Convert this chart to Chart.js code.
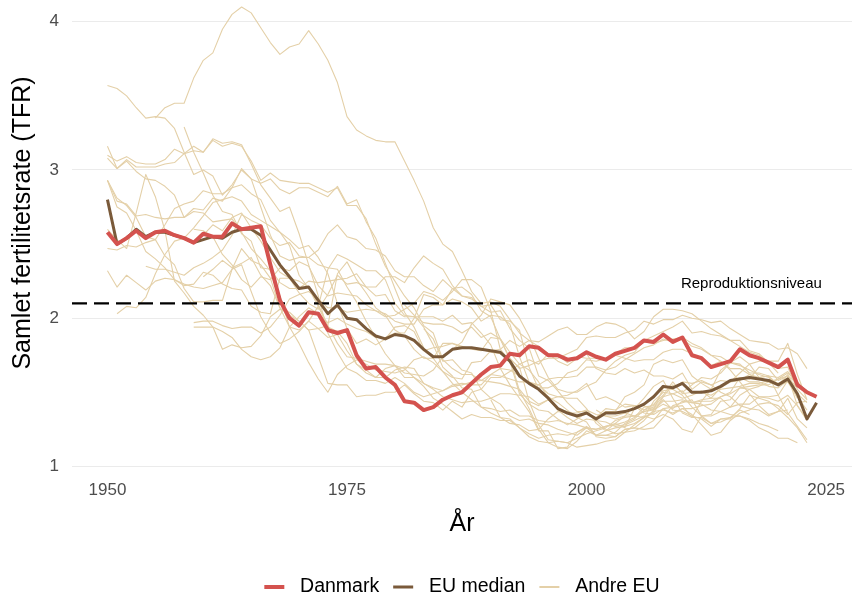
<!DOCTYPE html>
<html>
<head>
<meta charset="utf-8">
<script src="https://cdn.jsdelivr.net/npm/chart.js@4.4.1/dist/chart.umd.min.js"></script>
<style>
  html, body { margin: 0; padding: 0; background: #fff; }
  canvas { display: block; }
</style>
</head>
<body>
<canvas id="myChart" width="854" height="596"></canvas>
<script>
// TFR per year, Danmark and EU median 1950-2024
var firstYear = 1950;
var danmark = [2.58, 2.50, 2.54, 2.59, 2.54, 2.58, 2.59, 2.56, 2.54, 2.51,
    2.57, 2.55, 2.55, 2.64, 2.60, 2.61, 2.62, 2.36, 2.12, 2.00,
    1.95, 2.04, 2.03, 1.92, 1.90, 1.92, 1.75, 1.66, 1.67, 1.60,
    1.55, 1.44, 1.43, 1.38, 1.40, 1.45, 1.48, 1.50, 1.56, 1.62,
    1.67, 1.68, 1.76, 1.75, 1.81, 1.80, 1.75, 1.75, 1.72, 1.73,
    1.77, 1.74, 1.72, 1.76, 1.78, 1.80, 1.85, 1.84, 1.89, 1.84,
    1.87, 1.75, 1.73, 1.67, 1.69, 1.71, 1.79, 1.75, 1.73, 1.70,
    1.67, 1.72, 1.55, 1.50, 1.47];
var euMedian = [2.80, 2.50, 2.54, 2.60, 2.55, 2.58, 2.58, 2.56, 2.54, 2.51,
    2.53, 2.55, 2.54, 2.58, 2.60, 2.60, 2.56, 2.46, 2.36, 2.28,
    2.20, 2.21, 2.12, 2.03, 2.09, 2.00, 1.99, 1.93, 1.88, 1.86,
    1.89, 1.88, 1.85, 1.79, 1.74, 1.74, 1.79, 1.80, 1.80, 1.79,
    1.78, 1.77, 1.71, 1.61, 1.56, 1.52, 1.46, 1.39, 1.36, 1.34,
    1.36, 1.32, 1.36, 1.36, 1.37, 1.39, 1.42, 1.47, 1.54, 1.53,
    1.56, 1.50, 1.50, 1.51, 1.54, 1.58, 1.59, 1.60, 1.59, 1.58,
    1.55, 1.59, 1.49, 1.32, 1.43];

// other EU countries, each from its own first year
var austria = [2.03, 2.08, 2.07, 2.14, 2.30, 2.43, 2.52, 2.54, 2.61,
    2.69, 2.78, 2.80, 2.82, 2.79, 2.70, 2.66, 2.62, 2.58, 2.49,
    2.29, 2.20, 2.08, 1.94, 1.91, 1.83, 1.69, 1.63, 1.60, 1.60,
    1.65, 1.67, 1.66, 1.56, 1.52, 1.47, 1.45, 1.43, 1.44, 1.44,
    1.46, 1.49, 1.49, 1.48, 1.47, 1.42, 1.45, 1.39, 1.37, 1.34,
    1.36, 1.33, 1.39, 1.38, 1.42, 1.41, 1.41, 1.38, 1.42, 1.39,
    1.44, 1.43, 1.44, 1.44, 1.47, 1.49, 1.53, 1.52, 1.47, 1.46,
    1.44, 1.48, 1.41, 1.32];
var belgium = [2.56, 2.63, 2.59, 2.68, 2.71, 2.61, 2.52, 2.41, 2.31, 2.27,
    2.25, 2.21, 2.09, 1.95, 1.83, 1.74, 1.73, 1.71, 1.69, 1.69,
    1.68, 1.66, 1.60, 1.56, 1.53, 1.51, 1.54, 1.55, 1.57, 1.58,
    1.62, 1.66, 1.65, 1.61, 1.56, 1.55, 1.59, 1.60, 1.60, 1.61,
    1.67, 1.67, 1.65, 1.67, 1.72, 1.76, 1.80, 1.82, 1.86, 1.84,
    1.86, 1.81, 1.79, 1.75, 1.74, 1.70, 1.68, 1.65, 1.62, 1.60,
    1.55, 1.60, 1.53];
var bulgaria = [2.93, 2.75, 2.71, 2.59, 2.45, 2.40, 2.34, 2.26, 2.22, 2.23,
    2.31, 2.29, 2.23, 2.20, 2.19, 2.08, 2.04, 2.03, 2.27, 2.27,
    2.17, 2.10, 2.06, 2.16, 2.29, 2.23, 2.24, 2.21, 2.15, 2.16,
    2.05, 2.01, 2.01, 2.01, 2.01, 1.98, 2.02, 1.96, 1.97, 1.90,
    1.82, 1.66, 1.55, 1.46, 1.37, 1.24, 1.24, 1.12, 1.13, 1.23,
    1.27, 1.21, 1.21, 1.23, 1.29, 1.32, 1.38, 1.42, 1.48, 1.57,
    1.49, 1.50, 1.50, 1.48, 1.52, 1.53, 1.54, 1.56, 1.56, 1.58,
    1.56, 1.58];
var croatia = [1.38, 1.34, 1.32, 1.34, 1.41, 1.38, 1.40, 1.47, 1.49,
    1.46, 1.48, 1.51, 1.46, 1.46, 1.40, 1.42, 1.42, 1.47, 1.47,
    1.48, 1.58, 1.53];
var czechia = [2.93, 2.81, 2.76, 2.68, 2.55, 2.53, 2.42, 2.36, 2.20, 2.11,
    2.11, 2.12, 2.12, 2.33, 2.36, 2.18, 2.01, 1.90, 1.83, 1.86,
    1.91, 1.98, 2.08, 2.33, 2.43, 2.40, 2.36, 2.32, 2.32, 2.26,
    2.10, 2.02, 2.01, 1.97, 1.96, 1.96, 1.94, 1.90, 1.94, 1.87,
    1.90, 1.86, 1.72, 1.67, 1.44, 1.28, 1.18, 1.17, 1.16, 1.13,
    1.14, 1.15, 1.17, 1.18, 1.23, 1.28, 1.33, 1.44, 1.50, 1.49,
    1.51, 1.43, 1.45, 1.46, 1.53, 1.57, 1.63, 1.69, 1.71, 1.71,
    1.71, 1.83, 1.62, 1.45];
var estonia = [1.97,
    1.98, 1.98, 1.95, 1.93, 1.94, 1.94, 1.90, 1.94, 2.02, 2.13,
    2.16, 2.18, 2.13, 2.07, 2.07, 2.04, 2.05, 2.06, 2.05, 2.01,
    2.02, 2.06, 2.10, 2.18, 2.16, 2.12, 2.18, 2.26, 2.26, 2.21,
    2.05, 1.79, 1.71, 1.49, 1.42, 1.38, 1.37, 1.32, 1.28, 1.32,
    1.36, 1.32, 1.37, 1.37, 1.47, 1.50, 1.55, 1.69, 1.72, 1.70,
    1.72, 1.61, 1.56, 1.52, 1.54, 1.58, 1.60, 1.59, 1.67, 1.66,
    1.58, 1.61, 1.41, 1.31];
var finland = [3.16, 3.01, 3.06, 2.99, 2.94, 2.93, 2.89, 2.83, 2.68, 2.72,
    2.71, 2.65, 2.66, 2.67, 2.58, 2.47, 2.40, 2.32, 2.15, 1.94,
    1.83, 1.70, 1.59, 1.50, 1.62, 1.68, 1.72, 1.69, 1.65, 1.64,
    1.63, 1.65, 1.72, 1.74, 1.70, 1.64, 1.60, 1.59, 1.70, 1.71,
    1.78, 1.79, 1.85, 1.81, 1.85, 1.81, 1.76, 1.75, 1.70, 1.74,
    1.73, 1.73, 1.72, 1.76, 1.80, 1.80, 1.84, 1.83, 1.85, 1.86,
    1.87, 1.83, 1.80, 1.75, 1.71, 1.65, 1.57, 1.49, 1.41, 1.35,
    1.37, 1.46, 1.32, 1.26];
var france = [2.93, 2.79, 2.77, 2.69, 2.70, 2.68, 2.67, 2.68, 2.68, 2.74,
    2.73, 2.81, 2.79, 2.88, 2.90, 2.84, 2.80, 2.66, 2.58, 2.53,
    2.47, 2.49, 2.41, 2.30, 2.10, 1.93, 1.83, 1.86, 1.82, 1.86,
    1.94, 1.95, 1.91, 1.78, 1.80, 1.81, 1.83, 1.80, 1.80, 1.79,
    1.77, 1.76, 1.73, 1.66, 1.68, 1.71, 1.73, 1.73, 1.76, 1.79,
    1.87, 1.88, 1.87, 1.87, 1.90, 1.92, 1.98, 1.96, 1.99, 1.99,
    2.02, 2.00, 1.99, 1.97, 1.98, 1.93, 1.89, 1.85, 1.84, 1.83,
    1.79, 1.80, 1.76, 1.66];
var germany = [1.45, 1.33, 1.29, 1.28, 1.24, 1.25, 1.32, 1.37, 1.36, 1.36,
    1.38, 1.35, 1.34, 1.34, 1.36, 1.34, 1.33, 1.37, 1.38, 1.36,
    1.39, 1.39, 1.41, 1.42, 1.47, 1.50, 1.60, 1.57, 1.57, 1.54,
    1.53, 1.58, 1.46];
var greece = [2.09, 2.02, 1.94, 1.82, 1.67, 1.61, 1.53, 1.52, 1.40,
    1.39, 1.37, 1.38, 1.34, 1.34, 1.31, 1.30, 1.31, 1.29, 1.28,
    1.26, 1.25, 1.27, 1.28, 1.30, 1.33, 1.40, 1.41, 1.51, 1.52,
    1.48, 1.40, 1.34, 1.29, 1.30, 1.33, 1.38, 1.35];
var hungary = [2.60, 2.53, 2.47, 2.71, 2.97, 2.82, 2.59, 2.25, 2.17, 2.08,
    2.02, 1.94, 1.79, 1.82, 1.80, 1.81, 1.88, 2.01, 2.06, 2.04,
    1.98, 1.92, 1.93, 1.95, 2.30, 2.38, 2.26, 2.17, 2.07, 2.02,
    1.92, 1.88, 1.79, 1.73, 1.73, 1.83, 1.83, 1.81, 1.79, 1.78,
    1.87, 1.86, 1.77, 1.69, 1.65, 1.57, 1.46, 1.38, 1.33, 1.29,
    1.32, 1.31, 1.30, 1.27, 1.28, 1.31, 1.34, 1.32, 1.35, 1.32,
    1.25, 1.23, 1.34, 1.35, 1.44, 1.45, 1.53, 1.54, 1.55, 1.55,
    1.59, 1.61, 1.56, 1.51];
var ireland = [3.35, 3.42, 3.45, 3.45, 3.62,
    3.74, 3.79, 3.95, 4.05, 4.10, 4.06, 3.96, 3.86, 3.78, 3.83,
    3.85, 3.94, 3.85, 3.74, 3.59, 3.36, 3.27, 3.23, 3.20, 3.19,
    3.19, 3.06, 2.93, 2.79, 2.61, 2.50, 2.45, 2.32, 2.18, 2.10,
    2.11, 2.08, 1.99, 1.90, 1.85, 1.84, 1.88, 1.92, 1.94, 1.89,
    1.89, 1.94, 1.97, 1.96, 1.93, 1.86, 1.91, 2.01, 2.06, 2.06,
    2.05, 2.03, 1.98, 1.93, 1.89, 1.85, 1.81, 1.77, 1.75, 1.70,
    1.63];
var italy = [2.35, 2.33, 2.33, 2.31, 2.29, 2.34,
    2.37, 2.41, 2.46, 2.56, 2.70, 2.66, 2.63, 2.54, 2.49, 2.51,
    2.42, 2.41, 2.36, 2.34, 2.33, 2.21, 2.11, 1.98, 1.87, 1.76,
    1.68, 1.60, 1.60, 1.54, 1.46, 1.42, 1.37, 1.32, 1.35, 1.33,
    1.33, 1.31, 1.31, 1.26, 1.22, 1.19, 1.21, 1.22, 1.21, 1.23,
    1.26, 1.25, 1.27, 1.29, 1.34, 1.34, 1.37, 1.38, 1.44, 1.44,
    1.45, 1.43, 1.42, 1.38, 1.37, 1.35, 1.34, 1.32, 1.29, 1.27,
    1.24];
var latvia = [1.94,
    1.94, 1.94, 1.91, 1.87, 1.79, 1.74, 1.72, 1.74, 1.80, 1.94,
    2.01, 2.07, 2.03, 1.97, 2.00, 1.96, 1.93, 1.91, 1.87, 1.87,
    1.90, 1.90, 2.00, 2.16, 2.14, 2.09, 2.20, 2.21, 2.16, 2.05,
    2.01, 1.86, 1.73, 1.51, 1.39, 1.25, 1.16, 1.13, 1.12, 1.17,
    1.24, 1.21, 1.24, 1.29, 1.26, 1.39, 1.46, 1.54, 1.58, 1.46,
    1.36, 1.33, 1.44, 1.52, 1.65, 1.70, 1.74, 1.69, 1.60, 1.61,
    1.55, 1.57, 1.47, 1.38];
var lithuania = [2.60,
    2.59, 2.55, 2.43, 2.36, 2.26, 2.21, 2.28, 2.26, 2.34, 2.32,
    2.38, 2.35, 2.22, 2.15, 2.17, 2.16, 2.15, 2.09, 2.05, 2.03,
    1.98, 1.96, 1.96, 2.06, 2.09, 2.09, 2.13, 2.11, 2.07, 1.98,
    2.02, 2.01, 1.96, 1.74, 1.57, 1.55, 1.49, 1.47, 1.46, 1.46,
    1.39, 1.29, 1.24, 1.26, 1.27, 1.29, 1.33, 1.36, 1.47, 1.55,
    1.50, 1.55, 1.60, 1.59, 1.63, 1.70, 1.69, 1.63, 1.63, 1.61,
    1.48, 1.36, 1.27, 1.18];
var luxembourg = [2.28, 2.33, 2.39, 2.34, 2.37, 2.41, 2.29, 2.22, 2.07, 2.02,
    1.98, 1.92, 1.74, 1.56, 1.55, 1.55, 1.47, 1.48, 1.48, 1.50,
    1.50, 1.55, 1.49, 1.44, 1.43, 1.38, 1.44, 1.40, 1.50, 1.52,
    1.60, 1.60, 1.64, 1.69, 1.72, 1.69, 1.76, 1.71, 1.68, 1.73,
    1.76, 1.66, 1.63, 1.62, 1.66, 1.63, 1.65, 1.61, 1.61, 1.59,
    1.63, 1.52, 1.57, 1.55, 1.50, 1.47, 1.41, 1.39, 1.38, 1.34,
    1.37, 1.38];
var netherlands = [3.10, 3.06, 3.09, 3.05, 3.04, 3.04, 3.07, 3.14, 3.11, 3.13,
    3.12, 3.21, 3.18, 3.19, 3.17, 3.04, 2.90, 2.81, 2.72, 2.75,
    2.57, 2.36, 2.15, 1.90, 1.77, 1.66, 1.63, 1.58, 1.58, 1.56,
    1.60, 1.56, 1.50, 1.47, 1.49, 1.51, 1.55, 1.56, 1.55, 1.55,
    1.62, 1.61, 1.59, 1.57, 1.57, 1.53, 1.53, 1.56, 1.63, 1.65,
    1.72, 1.71, 1.73, 1.75, 1.73, 1.71, 1.72, 1.72, 1.77, 1.79,
    1.79, 1.76, 1.72, 1.68, 1.71, 1.66, 1.66, 1.62, 1.59, 1.57,
    1.55, 1.62, 1.49, 1.43];
var poland = [3.29, 3.12,
    2.98, 2.83, 2.72, 2.70, 2.57, 2.52, 2.34, 2.33, 2.24, 2.20,
    2.20, 2.25, 2.24, 2.25, 2.26, 2.27, 2.30, 2.21, 2.21, 2.28,
    2.28, 2.24, 2.34, 2.42, 2.37, 2.33, 2.22, 2.15, 2.13, 2.08,
    2.04, 2.05, 1.93, 1.85, 1.80, 1.61, 1.58, 1.51, 1.43, 1.37,
    1.37, 1.31, 1.25, 1.22, 1.23, 1.24, 1.27, 1.31, 1.39, 1.40,
    1.41, 1.33, 1.33, 1.29, 1.32, 1.32, 1.39, 1.48, 1.46, 1.44,
    1.39, 1.33, 1.26, 1.16];
var portugal = [3.08, 3.01, 3.07, 3.02, 3.02, 3.02, 3.04, 3.05, 3.11, 3.16,
    3.12, 3.20, 3.16, 3.18, 3.16, 3.06, 2.93, 2.98, 2.93, 2.92,
    2.91, 2.91, 2.88, 2.85, 2.88, 2.76, 2.76, 2.67, 2.50, 2.35,
    2.25, 2.15, 2.07, 1.95, 1.90, 1.72, 1.66, 1.62, 1.62, 1.58,
    1.57, 1.56, 1.54, 1.52, 1.44, 1.41, 1.45, 1.47, 1.48, 1.51,
    1.56, 1.45, 1.47, 1.44, 1.40, 1.41, 1.36, 1.35, 1.39, 1.35,
    1.39, 1.35, 1.28, 1.21, 1.23, 1.31, 1.36, 1.38, 1.42, 1.43,
    1.41, 1.35, 1.43, 1.44];
var slovakia = [3.57, 3.55, 3.50, 3.42, 3.35, 3.36, 3.35, 3.28, 3.12, 2.97,
    3.00, 2.96, 2.83, 2.90, 3.00, 2.94, 2.75, 2.56, 2.42, 2.39,
    2.41, 2.41, 2.46, 2.57, 2.63, 2.55, 2.53, 2.47, 2.46, 2.42,
    2.32, 2.28, 2.28, 2.22, 2.18, 2.26, 2.20, 2.15, 2.14, 2.08,
    2.09, 1.99, 1.98, 1.92, 1.67, 1.52, 1.47, 1.43, 1.38, 1.33,
    1.30, 1.20, 1.19, 1.20, 1.25, 1.26, 1.25, 1.26, 1.33, 1.41,
    1.43, 1.45, 1.34, 1.34, 1.37, 1.40, 1.48, 1.52, 1.54, 1.57,
    1.59, 1.63, 1.57, 1.50];
var slovenia = [1.93, 1.86, 1.71, 1.72, 1.65, 1.63, 1.52,
    1.46, 1.42, 1.34, 1.31, 1.32, 1.29, 1.28, 1.25, 1.23, 1.21,
    1.26, 1.21, 1.21, 1.20, 1.25, 1.26, 1.31, 1.38, 1.53, 1.53,
    1.57, 1.56, 1.58, 1.55, 1.58, 1.57, 1.58, 1.62, 1.60, 1.61,
    1.60, 1.64, 1.55, 1.51];
var spain = [2.47, 2.46, 2.49, 2.48, 2.51, 2.53, 2.63, 2.74, 2.77, 2.79,
    2.86, 2.84, 2.84, 2.88, 3.01, 2.94, 2.91, 2.94, 2.87, 2.84,
    2.88, 2.88, 2.85, 2.82, 2.89, 2.77, 2.80, 2.65, 2.54, 2.37,
    2.20, 2.04, 1.94, 1.80, 1.73, 1.64, 1.56, 1.50, 1.45, 1.40,
    1.36, 1.33, 1.32, 1.26, 1.20, 1.17, 1.16, 1.17, 1.16, 1.19,
    1.22, 1.24, 1.26, 1.31, 1.33, 1.34, 1.37, 1.39, 1.45, 1.38,
    1.37, 1.34, 1.32, 1.27, 1.32, 1.33, 1.34, 1.31, 1.26, 1.23,
    1.19, 1.19, 1.16];
var sweden = [2.32, 2.21, 2.29, 2.24, 2.19, 2.25, 2.27, 2.26, 2.23, 2.21,
    2.20, 2.22, 2.24, 2.33, 2.47, 2.39, 2.36, 2.27, 2.07, 1.94,
    1.92, 1.98, 1.93, 1.87, 1.89, 1.78, 1.69, 1.65, 1.60, 1.66,
    1.68, 1.63, 1.62, 1.61, 1.65, 1.74, 1.79, 1.84, 1.96, 2.02,
    2.13, 2.11, 2.09, 2.00, 1.88, 1.73, 1.60, 1.52, 1.50, 1.50,
    1.54, 1.57, 1.65, 1.71, 1.75, 1.77, 1.85, 1.88, 1.91, 1.94,
    1.98, 1.90, 1.91, 1.89, 1.88, 1.85, 1.85, 1.78, 1.76, 1.70,
    1.66, 1.67, 1.52, 1.45];

var otherSeries = [austria, belgium, bulgaria, croatia, czechia, estonia, finland, france,
    germany, greece, hungary, ireland, italy, latvia, lithuania, luxembourg,
    netherlands, poland, portugal, slovakia, slovenia, spain, sweden];
var otherStarts = [1951, 1960, 1950, 2001, 1950, 1959, 1950, 1950,
    1990, 1981, 1950, 1955, 1954, 1959, 1959, 1960,
    1950, 1958, 1950, 1950, 1983, 1950, 1950];

var replacementLevel = 2.1;
var refLabel = 'Reproduktionsniveau';
var refLabelAt = [2017.2, 2.23];
var yTitle = 'Samlet fertilitetsrate (TFR)';
var xTicks = [1950, 1975, 2000, 2025];
var yTicks = [1, 2, 3, 4];
var xMin = 1946.3, xMax = 2027.7;

var red = '#d4524e';
var brown = '#7a5a3a';
var beige = '#e4d0a8';
var fontFam = '"Liberation Sans", Arial, Helvetica, sans-serif';

function toPoints(values, start) {
    return values.map(function (v, i) { return {x: start + i, y: v}; });
}

var datasets = [];
otherSeries.forEach(function (s, i) {
    datasets.push({
        label: 'Andre EU',
        data: toPoints(s, otherStarts[i]),
        borderColor: beige,
        borderWidth: 1.1,
        order: 4
    });
});
datasets.push({
    label: 'Reproduktionsniveau',
    data: [{x: xMin, y: replacementLevel}, {x: xMax, y: replacementLevel}],
    borderColor: '#000',
    borderWidth: 2.2,
    borderDash: [15, 7],
    order: 3
});
datasets.push({
    label: 'EU median',
    data: toPoints(euMedian, firstYear),
    borderColor: brown,
    borderWidth: 3,
    order: 2
});
datasets.push({
    label: 'Danmark',
    data: toPoints(danmark, firstYear),
    borderColor: red,
    borderWidth: 4,
    order: 1
});

// reference line label + y title (the title sits a bit above the plot centre, like the original)
var textPlugin = {
    id: 'extraText',
    afterDraw: function (chart) {
        var ctx = chart.ctx;
        ctx.save();
        ctx.font = '15px ' + fontFam;
        ctx.fillStyle = '#000';
        ctx.textAlign = 'center';
        ctx.textBaseline = 'middle';
        ctx.fillText(refLabel, chart.scales.x.getPixelForValue(refLabelAt[0]),
            chart.scales.y.getPixelForValue(refLabelAt[1]));
        ctx.translate(23, 223);
        ctx.rotate(-Math.PI / 2);
        ctx.font = '25px ' + fontFam;
        ctx.fillText(yTitle, 0, 0);
        ctx.restore();
    }
};

function legendLine(text, color, width) {
    // 20px stroke inside a 26px box, so the text sits a bit further away
    return {text: text, strokeStyle: color, fillStyle: 'rgba(0,0,0,0)', lineWidth: width,
        lineCap: 'butt', lineDash: [20, 200], hidden: false};
}

var ctx = document.getElementById('myChart').getContext('2d');
var myChart = new Chart(ctx, {
    type: 'line',
    data: {datasets: datasets},
    plugins: [textPlugin],
    options: {
        responsive: false,
        animation: false,
        devicePixelRatio: 1,
        layout: {padding: {left: 0, right: 2, top: 4, bottom: -10.75}},
        elements: {
            point: {radius: 0},
            line: {tension: 0, borderJoinStyle: 'round', fill: false}
        },
        plugins: {
            tooltip: {enabled: false},
            legend: {
                position: 'bottom',
                fullSize: false,
                onClick: null,
                labels: {
                    font: {family: fontFam, size: 19.5},
                    color: '#000',
                    boxWidth: 26,
                    boxHeight: 0,
                    padding: 14,
                    generateLabels: function () {
                        return [
                            legendLine('Danmark', red, 4),
                            legendLine('EU median', brown, 3),
                            legendLine('Andre EU', beige, 2)
                        ];
                    }
                }
            }
        },
        scales: {
            x: {
                type: 'linear',
                min: xMin,
                max: xMax,
                afterBuildTicks: function (scale) {
                    scale.ticks = xTicks.map(function (v) { return {value: v}; });
                },
                afterFit: function (scale) { scale.height = 85; },
                grid: {display: false, drawTicks: false},
                border: {display: false},
                ticks: {
                    color: '#4d4d4d',
                    font: {family: fontFam, size: 17},
                    padding: 2,
                    maxRotation: 0,
                    callback: function (v) { return String(v); }
                },
                title: {
                    display: true,
                    text: 'År',
                    color: '#000',
                    font: {family: fontFam, size: 25},
                    padding: {top: 0, bottom: 24}
                }
            },
            y: {
                min: 0.92,
                max: 4.12,
                afterBuildTicks: function (scale) {
                    scale.ticks = yTicks.map(function (v) { return {value: v}; });
                },
                afterFit: function (scale) { scale.width = 72; },
                grid: {color: '#ebebeb', lineWidth: 1, drawTicks: true, tickLength: 13, tickColor: 'rgba(0,0,0,0)'},
                border: {display: false},
                ticks: {
                    color: '#4d4d4d',
                    font: {family: fontFam, size: 17, lineHeight: 0.1},
                    padding: 0
                }
            }
        }
    }
});
</script>
</body>
</html>
